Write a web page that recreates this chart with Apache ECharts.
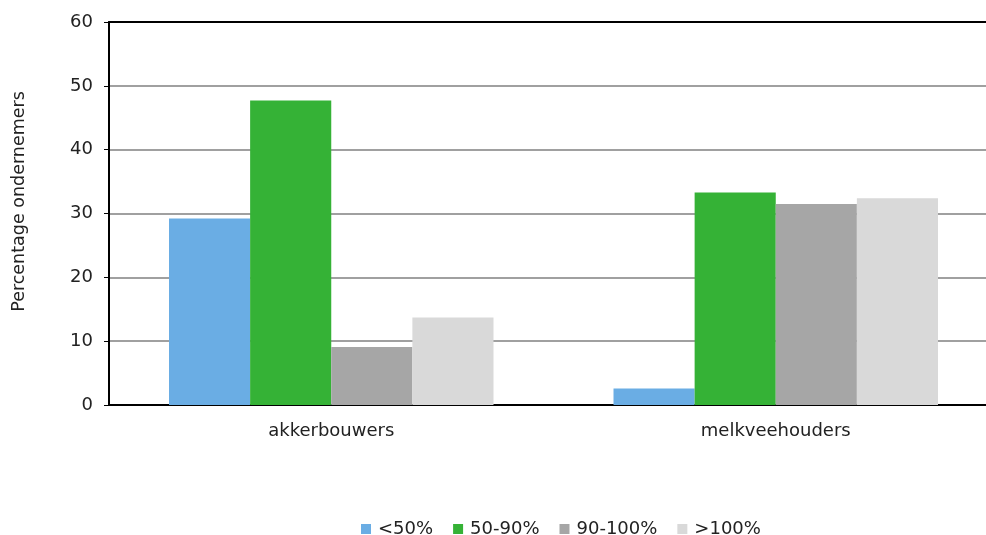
<!DOCTYPE html>
<html><head><meta charset="utf-8">
<script src="https://cdn.jsdelivr.net/npm/echarts@6/dist/echarts.min.js"></script>
<style>html,body{margin:0;padding:0;background:#fff}#c{width:986px;height:535px}</style>
</head><body><div id="c"></div>
<script>
const categories = ['akkerbouwers', 'melkveehouders'];
const seriesNames = ['<50%', '50-90%', '90-100%', '>100%'];
const s1 = [29.2, 2.6];
const s2 = [47.7, 33.3];
const s3 = [9.1, 31.5];
const s4 = [13.7, 32.4];
const yTicks = [0, 10, 20, 30, 40, 50, 60];
const colors = ['#6aade4', '#35b236', '#a6a6a6', '#d9d9d9'];
const FONT = 'DejaVu Sans';
const chart = echarts.init(document.getElementById('c'));
const mk = (name, data, i) => ({
  name, type: 'bar', data, barGap: '0%', barCategoryGap: '27%',
  itemStyle: { color: colors[i] }
});
chart.setOption({
  animation: false,
  textStyle: { fontFamily: FONT },
  grid: { left: 109, top: 22, width: 889, height: 383, outerBoundsMode: 'none', containLabel: false },
  legend: {
    top: 520, left: 361, itemWidth: 10, itemHeight: 10, itemGap: 20, padding: 0,
    icon: 'rect', textStyle: { fontFamily: FONT, fontSize: 18, color: '#222', padding: [0, 0, 0, 2] },
    data: seriesNames
  },
  xAxis: [{
    type: 'category', data: categories,
    axisLine: { lineStyle: { color: '#000', width: 2 } },
    axisTick: { show: false },
    axisLabel: { fontFamily: FONT, fontSize: 18, color: '#222', margin: 17 }
  }, {
    type: 'category', data: categories, position: 'top',
    axisLine: { show: true, lineStyle: { color: '#000', width: 2 } },
    axisTick: { show: false }, axisLabel: { show: false }
  }],
  yAxis: {
    type: 'value', min: yTicks[0], max: yTicks[yTicks.length - 1], interval: 10,
    name: 'Percentage ondernemers', nameLocation: 'middle', nameGap: 81, nameRotate: 90,
    nameTextStyle: { fontFamily: FONT, fontSize: 17.5, color: '#222', padding: [0, 0, 0, 24] },
    axisLine: { show: true, lineStyle: { color: '#000', width: 2 } },
    axisTick: { show: true, length: 5, lineStyle: { color: '#000' } },
    axisLabel: { fontFamily: FONT, fontSize: 18, color: '#222', margin: 16 },
    splitLine: { lineStyle: { color: '#a0a0a0', width: 2 } }
  },
  series: [mk(seriesNames[0], s1, 0), mk(seriesNames[1], s2, 1), mk(seriesNames[2], s3, 2), mk(seriesNames[3], s4, 3)]
});
</script></body></html>
